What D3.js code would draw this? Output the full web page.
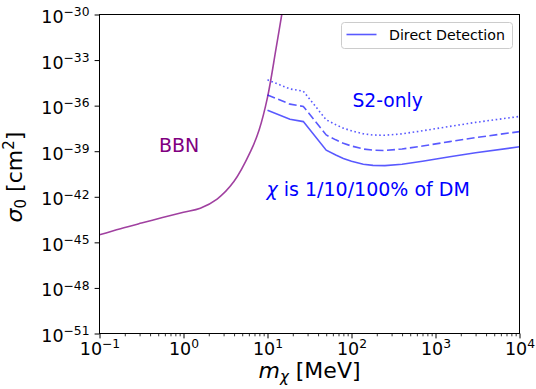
<!DOCTYPE html>
<html>
<head>
<meta charset="utf-8">
<script src="https://cdn.jsdelivr.net/npm/d3@7"></script>
<style>
  body { margin: 0; background: #fff; }
  text { font-family: "DejaVu Sans", sans-serif; }
</style>
</head>
<body>
<svg id="chart" width="536" height="389"></svg>
<script>
// tick exponents
const xTickExps = [-1, 0, 1, 2, 3, 4];
const yTickExps = [-30, -33, -36, -39, -42, -45, -48, -51];

// BBN bound (purple)
const bbnMass  = [0.1, 0.178, 0.316, 0.562, 1.0, 1.585, 2.512, 3.981, 6.31, 7.943, 10.0, 12.59, 14.79, 17.78];
const bbnSigma = [3.16e-45, 7.94e-45, 1.86e-44, 4.27e-44, 9.55e-44, 1.78e-43, 7.08e-43, 1.0e-41, 1.0e-39, 2.5e-38, 3.5e-36, 5.01e-33, 1.0e-30, 5.01e-28];

// direct detection S2-only (chi = 100% / 10% / 1% of DM)
const ddMass      = [10, 18.5, 26.7, 50, 65, 80, 100, 138, 180, 250, 400, 700, 1480, 3000, 10000];
const ddSigma100  = [5.0e-37, 1.26e-37, 8.9e-38, 1.17e-39, 5.6e-40, 3.3e-40, 2.2e-40, 1.4e-40, 1.17e-40, 1.12e-40, 1.4e-40, 2.2e-40, 4.3e-40, 7.9e-40, 1.95e-39];
const ddSigma10   = [5.0e-36, 1.26e-36, 8.9e-37, 1.17e-38, 5.6e-39, 3.3e-39, 2.2e-39, 1.4e-39, 1.17e-39, 1.12e-39, 1.4e-39, 2.2e-39, 4.3e-39, 7.9e-39, 1.95e-38];
const ddSigma1    = [5.0e-35, 1.26e-35, 8.9e-36, 1.17e-37, 5.6e-38, 3.3e-38, 2.2e-38, 1.4e-38, 1.17e-38, 1.12e-38, 1.4e-38, 2.2e-38, 4.3e-38, 7.9e-38, 1.95e-37];

const svg = d3.select("#chart");
const L = 99.5, R = 519.5, T = 14.5, B = 333.5;

const x = d3.scaleLog().domain([0.1, 1e4]).range([L, R]);
const y = d3.scaleLog().domain([1e-51, 1e-30]).range([B, T]);

const supText = e => (e < 0 ? "\u2212" + (-e) : String(e));

// clip
svg.append("defs").append("clipPath").attr("id", "plotclip")
  .append("rect").attr("x", L).attr("y", T).attr("width", R - L).attr("height", B - T);

// curves
const plot = svg.append("g").attr("clip-path", "url(#plotclip)");
const line = d3.line().x(d => x(d[0])).y(d => y(d[1]));
const bbnLine = d3.line().x(d => x(d[0])).y(d => y(d[1])).curve(d3.curveCatmullRom.alpha(0.5));

plot.append("path")
  .attr("d", bbnLine(d3.zip(bbnMass, bbnSigma)))
  .attr("fill", "none").attr("stroke", "purple").attr("stroke-opacity", 0.75).attr("stroke-width", 1.6);

const ddStyles = [
  { data: ddSigma100, dash: null },
  { data: ddSigma10, dash: "8,3.5" },
  { data: ddSigma1, dash: "1.6,2.6" }
];
ddStyles.forEach(s => {
  plot.append("path")
    .attr("d", line(d3.zip(ddMass, s.data)))
    .attr("fill", "none").attr("stroke", "blue").attr("stroke-opacity", 0.65)
    .attr("stroke-width", 1.6)
    .attr("stroke-dasharray", s.dash);
});

// axes
const xMajor = xTickExps.map(e => Math.pow(10, e));
const xMinor = [];
for (let e = -1; e < 4; e++) for (let k = 2; k <= 9; k++) xMinor.push(k * Math.pow(10, e));

svg.append("g").attr("transform", `translate(0,${B})`)
  .call(d3.axisBottom(x).tickValues(xMinor).tickSize(2.8).tickFormat(""))
  .call(g => g.select(".domain").remove())
  .call(g => g.selectAll("line").attr("stroke", "#000").attr("stroke-width", 0.8));

const xAx = svg.append("g").attr("transform", `translate(0,${B})`)
  .call(d3.axisBottom(x).tickValues(xMajor).tickSize(4.9).tickFormat(""))
  .call(g => g.select(".domain").remove())
  .call(g => g.selectAll("line").attr("stroke", "#000").attr("stroke-width", 1));

xAx.selectAll(".tick").each(function (d, i) {
  const t = d3.select(this).append("text")
    .attr("y", 21.5).attr("fill", "#000").attr("text-anchor", "middle")
    .attr("font-size", 17.5);
  t.append("tspan").text("10");
  t.append("tspan").attr("dy", -6.7).attr("font-size", 12.3).text(supText(xTickExps[i]));
});

const yAx = svg.append("g").attr("transform", `translate(${L},0)`)
  .call(d3.axisLeft(y).tickValues(yTickExps.map(e => Math.pow(10, e))).tickSize(4.9).tickFormat(""))
  .call(g => g.select(".domain").remove())
  .call(g => g.selectAll("line").attr("stroke", "#000").attr("stroke-width", 1));

yAx.selectAll(".tick").each(function (d, i) {
  const t = d3.select(this).append("text")
    .attr("x", -10).attr("y", 8).attr("fill", "#000").attr("text-anchor", "end")
    .attr("font-size", 17.5);
  t.append("tspan").text("10");
  t.append("tspan").attr("dy", -6.7).attr("font-size", 12.3).text(supText(yTickExps[i]));
});

// frame
svg.append("rect").attr("x", L).attr("y", T).attr("width", R - L).attr("height", B - T)
  .attr("fill", "none").attr("stroke", "#000").attr("stroke-width", 1);

// axis labels
const xl = svg.append("text").attr("x", (L + R) / 2).attr("y", 378).attr("text-anchor", "middle")
  .attr("font-size", 22).attr("fill", "#000");
xl.append("tspan").attr("font-style", "italic").text("m");
xl.append("tspan").attr("font-style", "italic").attr("font-size", 15).attr("dy", 4).text("\u03c7");
xl.append("tspan").attr("dy", -4).text(" [MeV]");

const yl = svg.append("text").attr("transform", `translate(22,${(T + B) / 2 + 3}) rotate(-90)`)
  .attr("text-anchor", "middle").attr("font-size", 22).attr("fill", "#000");
yl.append("tspan").attr("font-style", "italic").text("\u03c3");
yl.append("tspan").attr("font-size", 15).attr("dy", 4).text("0");
yl.append("tspan").attr("dy", -4).text(" [cm");
yl.append("tspan").attr("font-size", 15).attr("dy", -8).text("2");
yl.append("tspan").attr("dy", 8).text("]");

// annotations
svg.append("text").attr("x", 159).attr("y", 151.5).attr("font-size", 19).attr("fill", "purple").text("BBN");
svg.append("text").attr("x", 352.5).attr("y", 107).attr("font-size", 18.7).attr("fill", "blue").text("S2-only");
const chi = svg.append("text").attr("x", 266.5).attr("y", 195.5).attr("font-size", 19).attr("fill", "blue");
chi.append("tspan").attr("font-style", "italic").text("\u03c7");
chi.append("tspan").text(" is 1/10/100% of DM");

// legend
const lg = svg.append("g");
lg.append("rect").attr("x", 341.5).attr("y", 22.5).attr("width", 171).attr("height", 26).attr("rx", 3)
  .attr("fill", "#fff").attr("fill-opacity", 0.8).attr("stroke", "#ccc").attr("stroke-width", 1);
lg.append("line").attr("x1", 346.5).attr("x2", 376.5).attr("y1", 34.5).attr("y2", 34.5)
  .attr("stroke", "blue").attr("stroke-opacity", 0.65).attr("stroke-width", 1.6);
lg.append("text").attr("x", 389).attr("y", 40).attr("font-size", 14.2).attr("fill", "#000").text("Direct Detection");
</script>
</body>
</html>
